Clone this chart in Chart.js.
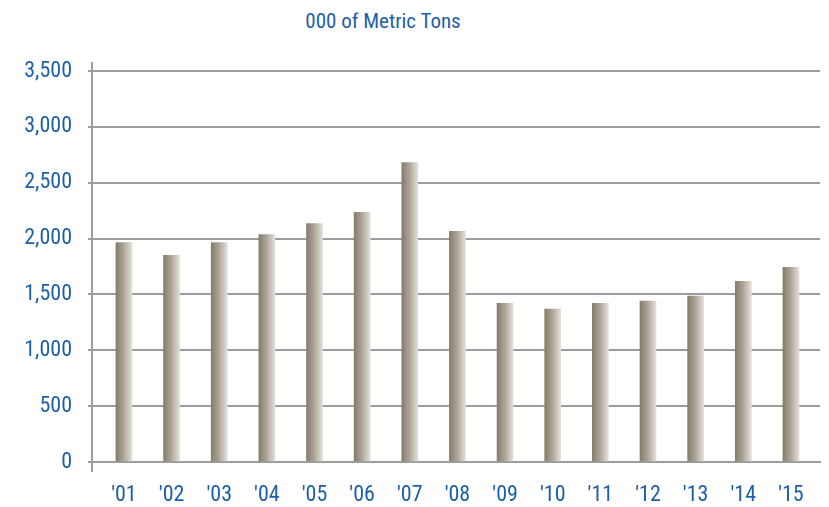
<!DOCTYPE html>
<html>
<head>
<meta charset="utf-8">
<script src="https://cdn.jsdelivr.net/npm/chart.js@4"></script>
<style>
  html, body { margin: 0; padding: 0; background: #fff; }
  #wrap { position: relative; width: 829px; height: 507px; }
  #title { position: absolute; top: 9px; left: 233px; width: 300px; text-align: center;
           font-family: Roboto, sans-serif; font-stretch: condensed;
           font-size: 21px; color: #1d5fa8; white-space: nowrap; }
  canvas { position: absolute; left: 0; top: 0; }
</style>
</head>
<body>
<div id="wrap">
  <div id="title">000 of Metric Tons</div>
  <canvas id="c" width="829" height="507"></canvas>
</div>
<script>
const categories = ["'01","'02","'03","'04","'05","'06","'07","'08","'09","'10","'11","'12","'13","'14","'15"];
const positions = [1,2,3,4,5,6,7,8,9,10,11,12,13,14,15];
const values = [1965,1850,1965,2035,2135,2235,2680,2065,1420,1368,1420,1440,1485,1618,1743];
const yTicks = [0,500,1000,1500,2000,2500,3000,3500];

const FONT = "Roboto, sans-serif";
const BLUE = '#1d5fa8';
const GRID = '#9c9c9c';

function barGradient(ctx) {
  const chart = ctx.chart;
  const xs = chart.scales && chart.scales.x;
  if (!xs || !ctx.parsed) return '#b0a999';
  const cx = xs.getPixelForValue(ctx.parsed.x);
  if (!isFinite(cx)) return '#b0a999';
  const g = chart.ctx.createLinearGradient(cx - 8, 0, cx + 8, 0);
  g.addColorStop(0, '#857c6c');
  g.addColorStop(0.45, '#aaa394');
  g.addColorStop(1, '#e2dfd8');
  return g;
}

// extends the y-axis line a little above the top and below the baseline, as in the original
const axisExtension = {
  id: 'axisExtension',
  afterDraw(chart) {
    const { ctx, chartArea, scales } = chart;
    const x = scales.y.right;
    ctx.save();
    ctx.strokeStyle = GRID;
    ctx.lineWidth = 2;
    ctx.beginPath();
    ctx.moveTo(x, chartArea.top - 9);
    ctx.lineTo(x, chartArea.bottom + 10);
    ctx.stroke();
    ctx.restore();
  }
};

new Chart(document.getElementById('c'), {
  type: 'bar',
  data: {
    datasets: [{
      data: positions.map((p, i) => ({ x: p, y: values[i] })),
      backgroundColor: barGradient,
      borderWidth: 0,
      barThickness: 16
    }]
  },
  plugins: [axisExtension],
  options: {
    responsive: false,
    animation: false,
    layout: { padding: { top: 71, right: 9, left: 0, bottom: 0 } },
    plugins: { legend: { display: false }, tooltip: { enabled: false }, title: { display: false } },
    scales: {
      x: {
        type: 'linear',
        offset: false,
        min: 0.33,
        max: 15.61,
        afterFit: s => { s.height = 45; },
        afterBuildTicks: s => { s.ticks = positions.map(v => ({ value: v })); },
        grid: { display: false, drawTicks: false },
        border: { display: true, color: GRID, width: 2 },
        ticks: {
          autoSkip: false,
          maxRotation: 0,
          padding: 20,
          color: BLUE,
          font: { family: FONT, size: 22, weight: 'condensed' },
          callback: (v) => categories[positions.indexOf(v)] ?? ''
        }
      },
      y: {
        min: 0,
        max: 3500,
        afterFit: s => { s.width = 92; },
        afterBuildTicks: s => { s.ticks = yTicks.map(v => ({ value: v })); },
        grid: { color: GRID, lineWidth: 2, tickLength: 4 },
        border: { display: true, color: GRID, width: 2 },
        ticks: {
          padding: 16,
          color: BLUE,
          font: { family: FONT, size: 22, weight: 'condensed' },
          callback: v => v.toLocaleString('en-US')
        }
      }
    }
  }
});
</script>
</body>
</html>
